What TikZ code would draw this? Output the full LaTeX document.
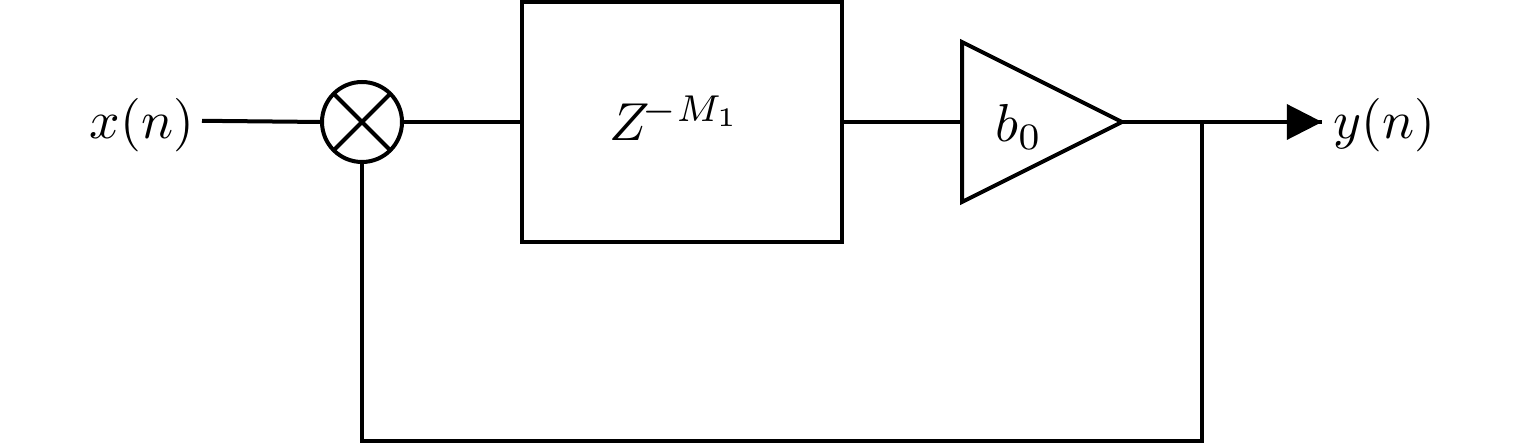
\documentclass[tikz,border=0pt]{standalone}
\usepackage{amsmath}
\usetikzlibrary{shapes.geometric}
\tikzset{
    wire/.style={line width=0.1cm},
    sumnode/.style={draw, circle, line width=0.1cm, minimum size=2cm, inner sep=0pt, outer sep=0pt},
    delaybox/.style={draw, line width=0.1cm, minimum width=8cm, minimum height=6cm, inner sep=0pt, outer sep=0pt},
    gaintri/.style={draw, isosceles triangle, isosceles triangle apex angle=53.13, isosceles triangle stretches, line width=0.1cm, minimum width=4cm, minimum height=4cm, inner sep=0pt, outer sep=0pt},
    sig/.style={inner sep=0pt, outer sep=0pt, scale=3.8}
}
\begin{document}
\begin{tikzpicture}
    \useasboundingbox (0,0) rectangle (38.1,11.2);
    % Blocks on the main row
    \node[sumnode] (sum) at (9.05,8.15) {};
    \node[delaybox] (delay) at (17.05,8.15) {};
    \node[sig] (delaytext) at (16.88,8.25) {$Z^{\!-M_1}$};
    \node[gaintri, anchor=apex] (gain) at (28.05,8.15) {};
    \node[sig] (gaintext) at (25.47,8.03) {$b_0$};
    % Signals
    \node[sig] (in) at (3.55,8.06) {$x(n)$};
    \node[sig] (out) at (34.6,8.06) {$y(n)$};
    \coordinate (instart) at (5.05,8.18);
    \coordinate (outend) at (33.05,8.15);
    \coordinate (tap) at (30.05,8.15);
    \coordinate (tapdown) at (30.05,0.18);
    \coordinate (sumdown) at (9.05,0.18);
    % Cross in the summing junction
    \draw[wire] (sum.45) -- (sum.225);
    \draw[wire] (sum.135) -- (sum.315);
    % Connections
    \draw[wire] (instart) -- (sum.west);
    \draw[wire] (sum.east) -- (delay.west);
    \draw[wire] (delay.east) -- (gain.west);
    \draw[wire] (gain.apex) -- (outend);
    \fill (outend) -- ++(-0.88,0.45) -- ++(0,-0.9) -- cycle;
    \draw[wire] (tap) -- (tapdown) -- (sumdown) -- (sum.south);
\end{tikzpicture}
\end{document}
